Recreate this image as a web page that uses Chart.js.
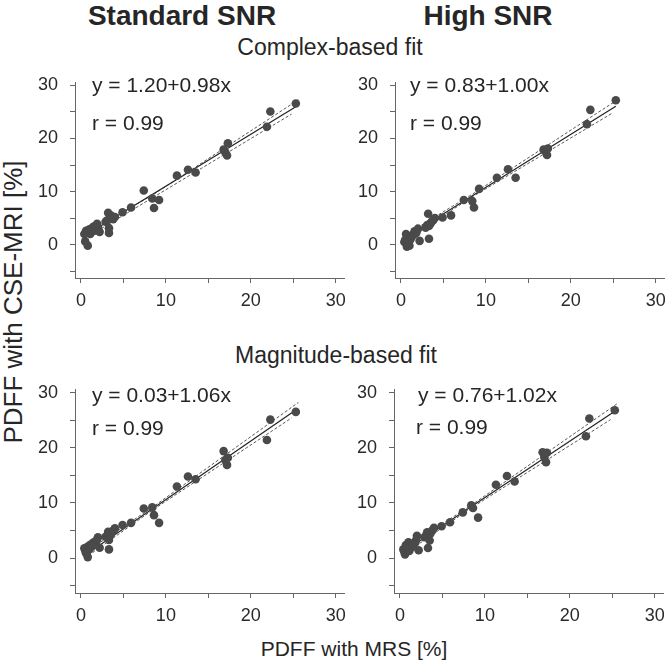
<!DOCTYPE html>
<html>
<head>
<meta charset="utf-8">
<script src="https://cdn.jsdelivr.net/npm/chart.js@4/dist/chart.umd.min.js"></script>
<style>
  html, body { margin:0; padding:0; background:#fff; width:672px; height:662px; overflow:hidden; }
  body { position:relative; font-family:"Liberation Sans", Arial, sans-serif; color:#262626; }
  canvas { position:absolute; }
  .t { position:absolute; white-space:nowrap; transform:translate(-50%,-50%); line-height:1; }
  .eq { position:absolute; white-space:nowrap; font-size:21px; line-height:24px; color:#262626; }
</style>
</head>
<body>
<div class="t" style="left:182px;top:16px;font-size:28px;font-weight:bold;">Standard SNR</div>
<div class="t" style="left:488px;top:16px;font-size:28px;font-weight:bold;">High SNR</div>
<div class="t" style="left:330px;top:47px;font-size:23px;">Complex-based fit</div>
<div class="t" style="left:336px;top:355px;font-size:23px;">Magnitude-based fit</div>
<div class="t" style="left:354px;top:648px;font-size:21px;">PDFF with MRS [%]</div>
<div class="t" style="left:13px;top:302px;font-size:26px;transform:translate(-50%,-50%) rotate(-90deg);">PDFF with CSE-MRI [%]</div>

<canvas id="c0" width="338" height="263" style="left:15px;top:60px;"></canvas>
<canvas id="c1" width="338" height="263" style="left:335px;top:60px;"></canvas>
<canvas id="c2" width="338" height="271" style="left:15px;top:367px;"></canvas>
<canvas id="c3" width="338" height="271" style="left:334px;top:367px;"></canvas>

<div class="eq" style="left:92px;top:73px;">y = 1.20+0.98x</div>
<div class="eq" style="left:92px;top:111px;">r = 0.99</div>
<div class="eq" style="left:410px;top:73px;">y = 0.83+1.00x</div>
<div class="eq" style="left:410px;top:111px;">r = 0.99</div>
<div class="eq" style="left:92px;top:383px;">y = 0.03+1.06x</div>
<div class="eq" style="left:92px;top:416px;">r = 0.99</div>
<div class="eq" style="left:418px;top:383px;">y = 0.76+1.02x</div>
<div class="eq" style="left:416px;top:415px;">r = 0.99</div>

<script>
// ---- data ----
const mrs = [0.4,0.5,0.6,0.7,0.8,0.9,1.0,1.1,1.2,1.3,1.5,1.6,1.8,1.9,2.0,2.2,
             2.9,3.1,3.2,3.3,3.3,3.5,3.6,3.8,4.0,
             4.9,5.9,7.4,8.4,8.6,9.2,11.3,12.6,13.5,16.8,17.0,17.2,17.3,21.9,22.3,25.3];

const cseComplexStd = [2.0,0.6,2.6,2.2,-0.2,2.4,2.9,2.0,2.7,3.1,3.4,2.6,3.6,3.9,3.2,2.4,
                       4.3,4.6,6.0,3.1,2.2,5.5,5.0,4.8,5.2,
                       6.1,7.0,10.2,8.7,6.9,8.4,13.0,14.1,13.6,17.9,17.4,16.8,19.1,22.2,25.1,26.6];
const cseComplexHigh = [0.5,0.9,2.0,-0.4,0.2,1.4,-0.2,0.9,1.3,1.6,1.9,2.5,2.2,2.7,3.0,0.7,
                        3.2,3.7,5.8,1.1,3.5,4.0,4.3,4.6,5.0,
                        5.1,5.5,8.4,8.2,7.0,10.5,12.6,14.2,12.6,17.9,17.6,16.9,18.1,22.7,25.4,27.2];
const cseMagStd = [1.8,1.4,0.9,2.0,0.2,1.5,2.3,1.8,2.5,2.2,2.9,2.6,3.0,3.4,3.8,1.9,
                   3.9,4.0,4.8,1.6,3.3,4.2,4.6,5.0,5.4,
                   6.0,6.4,9.0,9.2,7.8,6.4,13.0,14.8,14.3,19.4,17.8,16.9,18.2,21.4,25.1,26.5];
const cseMagHigh = [1.6,1.2,0.7,2.4,2.0,1.6,2.9,1.3,2.6,1.9,2.2,2.5,2.8,3.3,4.05,1.45,
                    3.8,4.2,4.7,1.85,3.9,3.2,4.5,5.0,5.5,
                    5.8,6.5,8.3,9.6,9.1,7.35,13.3,14.9,13.9,19.2,18.3,17.4,19.1,22.1,25.3,26.8];

// regression lines and confidence bands (end points)
const fitX = [0.4, 25.3];
const bandUpX = [0.4, 8.5, 25.6];
const bandLoX = [0.4, 8.5, 24.8];
const fitComplexStd = [1.6, 26.0],  upComplexStd = [2.1, 9.4, 27.3],  loComplexStd = [1.1, 8.9, 24.6];
const fitComplexHigh = [1.2, 26.1], upComplexHigh = [1.7, 9.6, 27.4], loComplexHigh = [0.7, 9.1, 24.7];
const fitMagStd = [0.45, 26.85],    upMagStd = [0.95, 9.3, 28.2],     loMagStd = [-0.05, 8.8, 25.4];
const fitMagHigh = [1.17, 26.6],    upMagHigh = [1.67, 9.7, 28.0],    loMagHigh = [0.67, 9.2, 25.1];

const xTicks = [0,5,10,15,20,25,30];
const yTicks = [-5,0,5,10,15,20,25,30];
const labeledTicks = [0,10,20,30];

// ---- drawing ----
const FONT = '"Liberation Sans", Arial, sans-serif';
const AXIS = '#666';
const pts = (xs, ys) => xs.map((x, i) => ({x, y: ys[i]}));

function makeChart(id, ys, fit, up, lo) {
  const tickCb = v => labeledTicks.includes(v) ? String(v) : '';
  new Chart(document.getElementById(id), {
    type: 'scatter',
    data: {
      datasets: [
        { data: pts(mrs, ys), backgroundColor: '#4a4a4a', borderColor: '#4a4a4a',
          pointRadius: 4.3, pointHoverRadius: 4.3, borderWidth: 0 },
        { data: pts(fitX, fit), showLine: true, pointRadius: 0, borderColor: '#222', borderWidth: 1.2 },
        { data: pts(bandUpX, up), showLine: true, pointRadius: 0, borderColor: '#444', borderWidth: 0.9, borderDash: [3,2] },
        { data: pts(bandLoX, lo), showLine: true, pointRadius: 0, borderColor: '#444', borderWidth: 0.9, borderDash: [3,2] }
      ]
    },
    options: {
      responsive: false, animation: false, devicePixelRatio: 1,
      layout: { padding: { top: 15, right: 8, left: 0, bottom: 0 } },
      plugins: { legend: { display: false }, tooltip: { enabled: false } },
      scales: {
        x: {
          type: 'linear', min: -0.7, max: 31,
          afterBuildTicks: s => { s.ticks = xTicks.map(v => ({value: v})); },
          afterFit: s => { s.height = 45; },
          grid: { drawOnChartArea: false, drawTicks: true, tickLength: 5, color: AXIS, lineWidth: 1 },
          border: { display: true, color: AXIS, width: 1 },
          ticks: { callback: tickCb, autoSkip: false, maxRotation: 0, padding: 7,
                   color: '#2a2a2a', font: { family: FONT, size: 18 } }
        },
        y: {
          type: 'linear', min: -6.3, max: 30.5,
          afterBuildTicks: s => { s.ticks = yTicks.map(v => ({value: v})); },
          afterFit: s => { s.width = 60; },
          grid: { drawOnChartArea: false, drawTicks: true, tickLength: 5, color: AXIS, lineWidth: 1 },
          border: { display: true, color: AXIS, width: 1 },
          ticks: { callback: tickCb, autoSkip: false, padding: 12,
                   color: '#2a2a2a', font: { family: FONT, size: 18 } }
        }
      }
    }
  });
}

makeChart('c0', cseComplexStd, fitComplexStd, upComplexStd, loComplexStd);
makeChart('c1', cseComplexHigh, fitComplexHigh, upComplexHigh, loComplexHigh);
makeChart('c2', cseMagStd, fitMagStd, upMagStd, loMagStd);
makeChart('c3', cseMagHigh, fitMagHigh, upMagHigh, loMagHigh);
</script>
</body>
</html>
